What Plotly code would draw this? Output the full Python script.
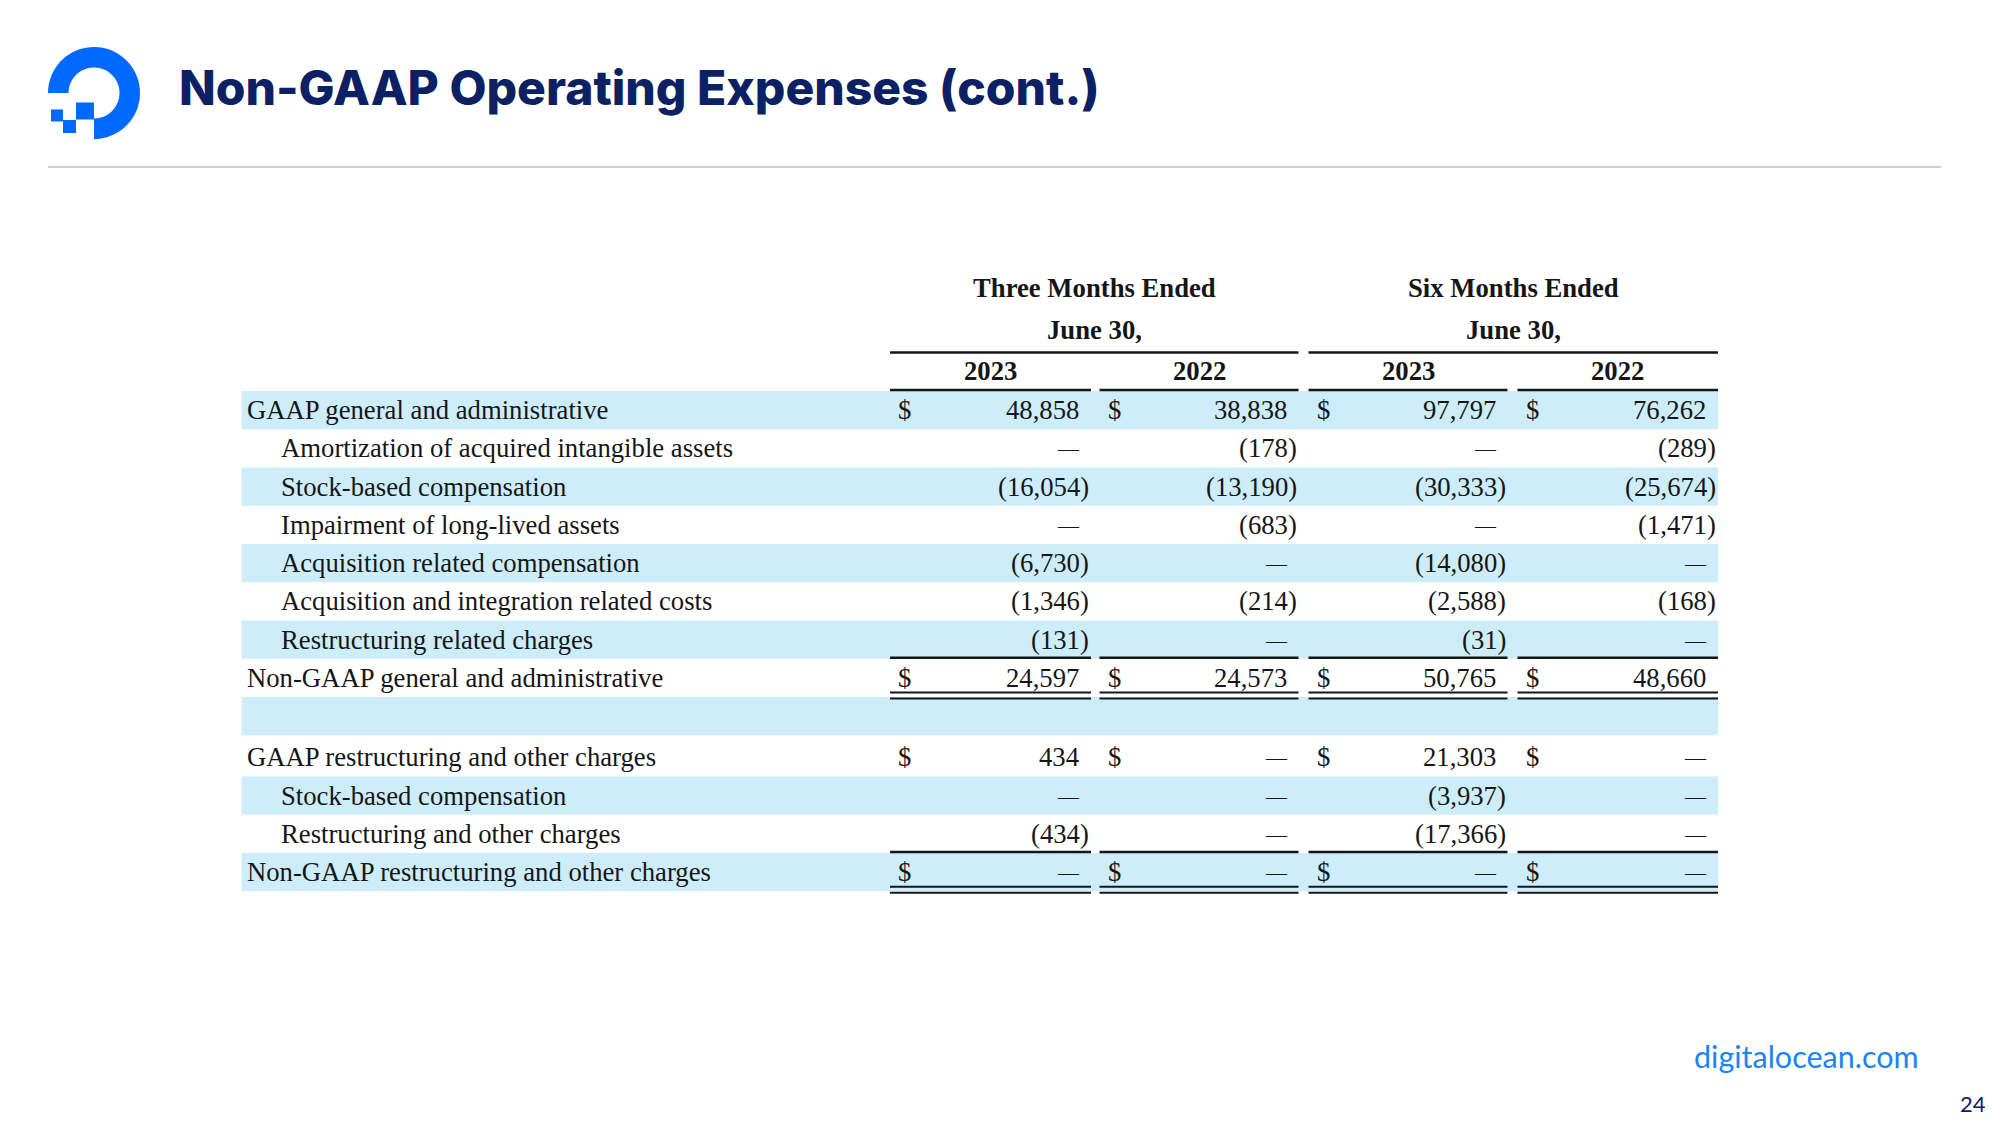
import numpy as np
import plotly.graph_objects as go

# ---------------- data ----------------
title_text = "Non-GAAP Operating Expenses (cont.)"
group_headers = ["Three Months Ended", "Six Months Ended"]
group_sub = "June 30,"
year_labels = ["2023", "2022", "2023", "2022"]

row_labels = [
    "GAAP general and administrative",
    "Amortization of acquired intangible assets",
    "Stock-based compensation",
    "Impairment of long-lived assets",
    "Acquisition related compensation",
    "Acquisition and integration related costs",
    "Restructuring related charges",
    "Non-GAAP general and administrative",
    "",
    "GAAP restructuring and other charges",
    "Stock-based compensation",
    "Restructuring and other charges",
    "Non-GAAP restructuring and other charges",
]

q3_2023 = [48858, None, -16054, None, -6730, -1346, -131, 24597, None, 434, None, -434, None]
q3_2022 = [38838, -178, -13190, -683, None, -214, None, 24573, None, None, None, None, None]
h1_2023 = [97797, None, -30333, None, -14080, -2588, -31, 50765, None, 21303, -3937, -17366, None]
h1_2022 = [76262, -289, -25674, -1471, None, -168, None, 48660, None, None, None, None, None]
columns = [q3_2023, q3_2022, h1_2023, h1_2022]

footer_url = "digitalocean.com"
page_no = "24"

# ---------------- styling / layout ----------------
W, H = 2000, 1125
OFF = 8  # page body margin compensation
NAVY = "#0b2163"
BLUE = "#0069ff"
BAND = "#cdedfb"
INK = "#161616"
SERIF = "Liberation Serif, Times New Roman, serif"
FS = 26.7

band_left, band_right = 241.5, 1718
seg_lr = [(890, 1091), (1099.5, 1298.5), (1308.5, 1507.5), (1517.5, 1718)]
row_top0 = 391.0
row_h = 38.25
gap_after_spacer = 3.0

fig = go.Figure()
shapes = []
annotations = []

def row_top(i):
    t = row_top0 + i * row_h
    if i > 8:
        t += gap_after_spacer
    return t

def fmt(v):
    if v is None:
        return "—"
    if v < 0:
        return "({:,})".format(-v)
    return "{:,}".format(v)

# banding
for i, lab in enumerate(row_labels):
    if i % 2 == 0:
        shapes.append(dict(type="rect", xref="x", yref="y", x0=band_left, x1=band_right,
                           y0=row_top(i), y1=row_top(i) + row_h, fillcolor=BAND,
                           line=dict(width=0), layer="below"))

# header text
group_centers = [(seg_lr[0][0] + seg_lr[1][1]) / 2, (seg_lr[2][0] + seg_lr[3][1]) / 2]
for gc, gh in zip(group_centers, group_headers):
    annotations.append(dict(x=gc, y=288, text=gh, showarrow=False, xanchor="center", yanchor="middle",
                            font=dict(family=SERIF, size=FS, color=INK, weight="bold")))
    annotations.append(dict(x=gc, y=330, text=group_sub, showarrow=False, xanchor="center", yanchor="middle",
                            font=dict(family=SERIF, size=FS, color=INK, weight="bold")))
for (l, r), yl in zip(seg_lr, year_labels):
    annotations.append(dict(x=(l + r) / 2, y=371, text=yl, showarrow=False, xanchor="center", yanchor="middle",
                            font=dict(family=SERIF, size=FS, color=INK, weight="bold")))

# header rules
for g in range(2):
    shapes.append(dict(type="line", xref="x", yref="y", x0=seg_lr[2 * g][0], x1=seg_lr[2 * g + 1][1],
                       y0=352.5, y1=352.5, line=dict(color=INK, width=2.5)))
for l, r in seg_lr:
    shapes.append(dict(type="line", xref="x", yref="y", x0=l, x1=r, y0=390, y1=390,
                       line=dict(color=INK, width=2.5)))

# rows
for i, lab in enumerate(row_labels):
    if lab == "":
        continue
    yc = row_top(i) + row_h / 2
    top_level = lab.startswith("GAAP") or lab.startswith("Non-GAAP")
    annotations.append(dict(x=245 if top_level else 279, y=yc, text=lab, showarrow=False,
                            xanchor="left", yanchor="middle",
                            font=dict(family=SERIF, size=FS, color=INK)))
    for c, (l, r) in enumerate(seg_lr):
        v = columns[c][i]
        if top_level:
            annotations.append(dict(x=l + 6, y=yc, text="$", showarrow=False, xanchor="left",
                                    yanchor="middle", font=dict(family=SERIF, size=FS, color=INK)))
        if v is None:
            annotations.append(dict(x=r - 9, y=yc + 1, text="—", showarrow=False, xanchor="right",
                                    yanchor="middle", font=dict(family=SERIF, size=21, color=INK)))
        elif v < 0:
            annotations.append(dict(x=r, y=yc, text=fmt(v), showarrow=False, xanchor="right",
                                    yanchor="middle", font=dict(family=SERIF, size=FS, color=INK)))
        else:
            annotations.append(dict(x=r - 10, y=yc, text=fmt(v), showarrow=False, xanchor="right",
                                    yanchor="middle", font=dict(family=SERIF, size=FS, color=INK)))
    if lab.startswith("Non-GAAP"):
        t = row_top(i)
        b = t + row_h
        for l, r in seg_lr:
            shapes.append(dict(type="line", xref="x", yref="y", x0=l, x1=r, y0=t - 1, y1=t - 1,
                               line=dict(color=INK, width=2.5)))
            shapes.append(dict(type="line", xref="x", yref="y", x0=l, x1=r, y0=b - 4.5, y1=b - 4.5,
                               line=dict(color=INK, width=2)))
            shapes.append(dict(type="line", xref="x", yref="y", x0=l, x1=r, y0=b + 1.5, y1=b + 1.5,
                               line=dict(color=INK, width=2)))

# title + separator
annotations.append(dict(x=177, y=87, text=title_text, showarrow=False, xanchor="left", yanchor="middle",
                        font=dict(family="Inter, sans-serif", size=48, color=NAVY, weight=800)))
shapes.append(dict(type="line", xref="x", yref="y", x0=48, x1=1941, y0=167, y1=167,
                   line=dict(color="#cfcfcf", width=2)))

# logo
cx, cy, R, r = 94, 93, 46, 25.5
th_out = np.linspace(np.pi, -np.pi / 2, 80)
th_in = th_out[::-1]
pts = [(cx + R * np.cos(t), cy - R * np.sin(t)) for t in th_out] + \
      [(cx + r * np.cos(t), cy - r * np.sin(t)) for t in th_in]
path = "M " + " L ".join("{:.2f},{:.2f}".format(px, py) for px, py in pts) + " Z"
shapes.append(dict(type="path", xref="x", yref="y", path=path, fillcolor=BLUE, line=dict(width=0)))
for x0, y0, x1, y1 in [(76, 102.5, 94, 119.5), (63, 120, 76, 133), (51, 109.5, 63, 121.5)]:
    shapes.append(dict(type="rect", xref="x", yref="y", x0=x0, y0=y0, x1=x1, y1=y1,
                       fillcolor=BLUE, line=dict(width=0)))

# footer
annotations.append(dict(x=1921, y=1056, text=footer_url, showarrow=False, xanchor="right", yanchor="middle",
                        font=dict(family="Lato, sans-serif", size=30.5, color="#1a84f5")))
annotations.append(dict(x=1988, y=1103, text=page_no, showarrow=False, xanchor="right", yanchor="middle",
                        font=dict(family="Lato, sans-serif", size=22, color=NAVY)))

fig.update_layout(
    width=W, height=H, margin=dict(l=0, r=0, t=0, b=0),
    paper_bgcolor="white", plot_bgcolor="white",
    xaxis=dict(range=[OFF, W + OFF], visible=False, fixedrange=True),
    yaxis=dict(range=[H + OFF, OFF], visible=False, fixedrange=True),
    shapes=shapes, annotations=annotations, showlegend=False,
)
fig.write_html("out.html", config={"displayModeBar": False})
